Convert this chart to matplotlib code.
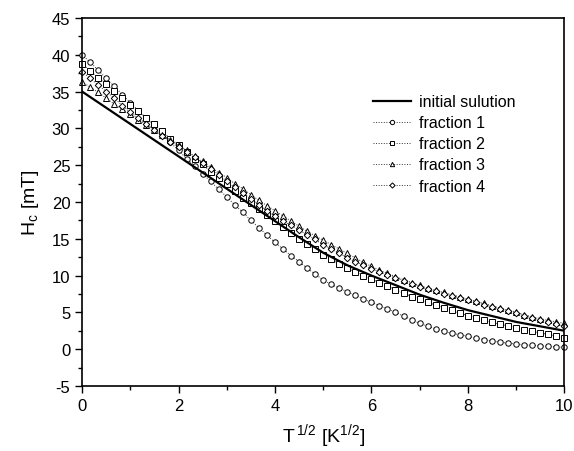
import matplotlib
matplotlib.use("Agg")
import matplotlib.pyplot as plt
import numpy as np

plt.rcParams['font.family'] = ['Liberation Sans', 'DejaVu Sans']
plt.rcParams['mathtext.default'] = 'regular'
plt.rcParams['axes.unicode_minus'] = False

# x grid of the measured fractions (61 points, 0..10) and of the initial solution
x_frac = np.linspace(0, 10, 61)
x_init = np.linspace(0, 10, 21)

initial = [35.0, 32.8, 30.6, 28.4, 26.2, 24.0, 21.8, 19.6, 17.4, 15.2, 13.1,
           11.4, 10.0, 8.7, 7.4, 6.3, 5.3, 4.5, 3.7, 3.1, 2.5]

fraction1 = [40.0, 39.0, 37.9, 36.8, 35.7, 34.6, 33.5, 32.4, 31.4, 30.3,
             29.2, 28.1, 27.0, 25.9, 24.9, 23.8, 22.8, 21.7, 20.7, 19.6,
             18.6, 17.5, 16.5, 15.5, 14.5, 13.6, 12.7, 11.9, 11.0, 10.2,
             9.4, 8.8, 8.3, 7.8, 7.3, 6.8, 6.35, 5.9, 5.45, 5.0,
             4.5, 4.0, 3.5, 3.1, 2.75, 2.45, 2.15, 1.95, 1.75, 1.5,
             1.3, 1.1, 0.95, 0.8, 0.7, 0.6, 0.5, 0.45, 0.38, 0.3, 0.25]

fraction2 = [38.8, 37.8, 36.9, 36.0, 35.1, 34.1, 33.2, 32.3, 31.4, 30.6,
             29.6, 28.6, 27.7, 26.75, 25.9, 25.1, 24.1, 23.2, 22.4, 21.5,
             20.6, 19.8, 19.0, 18.2, 17.4, 16.6, 15.8, 15.0, 14.3, 13.6,
             12.85, 12.2, 11.6, 11.0, 10.5, 10.0, 9.5, 9.05, 8.6, 8.1,
             7.6, 7.15, 6.75, 6.35, 6.0, 5.65, 5.25, 4.9, 4.55, 4.25,
             3.95, 3.65, 3.4, 3.15, 2.9, 2.65, 2.45, 2.2, 2.0, 1.75, 1.5]

fraction3 = [36.3, 35.6, 34.9, 34.1, 33.3, 32.6, 31.9, 31.2, 30.5, 29.8,
             29.1, 28.4, 27.7, 27.0, 26.2, 25.5, 24.7, 24.0, 23.3, 22.5,
             21.8, 21.0, 20.2, 19.5, 18.8, 18.1, 17.4, 16.7, 16.0, 15.4,
             14.8, 14.2, 13.6, 13.0, 12.4, 11.8, 11.25, 10.75, 10.3, 9.85,
             9.45, 9.05, 8.65, 8.3, 8.0, 7.7, 7.4, 7.1, 6.8, 6.5,
             6.2, 5.9, 5.6, 5.3, 5.0, 4.7, 4.4, 4.15, 3.9, 3.7, 3.5]

fraction4 = [37.7, 36.8, 35.9, 35.0, 34.1, 33.1, 32.2, 31.4, 30.6, 29.8,
             29.0, 28.2, 27.5, 26.8, 26.1, 25.3, 24.5, 23.7, 22.8, 22.0,
             21.2, 20.4, 19.6, 18.8, 18.1, 17.4, 16.8, 16.2, 15.5, 14.9,
             14.2, 13.6, 13.0, 12.4, 11.9, 11.4, 10.95, 10.5, 10.1, 9.7,
             9.3, 8.9, 8.5, 8.15, 7.85, 7.55, 7.25, 6.95, 6.65, 6.35,
             6.05, 5.75, 5.45, 5.15, 4.85, 4.55, 4.25, 3.95, 3.7, 3.4, 3.1]

fractions = [fraction1, fraction2, fraction3, fraction4]
labels = ["fraction 1", "fraction 2", "fraction 3", "fraction 4"]
markers = ["o", "s", "^", "D"]
msizes = [3.9, 3.7, 3.9, 3.3]

fig = plt.figure(figsize=(5.74, 4.52), dpi=100)
ax = fig.add_axes([0.143, 0.144, 0.840, 0.814])

ax.plot(x_init, initial, color="black", lw=1.6, label="initial sulution", zorder=3)
for vals, lab, mk, ms in zip(fractions, labels, markers, msizes):
    ax.plot(x_frac, vals, linestyle=":", color="#333333", lw=0.7,
            marker=mk, markersize=ms, markerfacecolor="white",
            markeredgecolor="black", markeredgewidth=0.7, label=lab, clip_on=False)

ax.set_xlim(0, 10)
ax.set_ylim(-5, 45)
ax.set_xticks(np.arange(0, 11, 2))
ax.set_xticks(np.arange(1, 10, 2), minor=True)
ax.set_yticks(np.arange(-5, 46, 5))
ax.set_yticks(np.arange(-2.5, 45, 5), minor=True)
ax.tick_params(which="both", direction="out", top=False, right=False,
               labelsize=12, width=1)
ax.tick_params(which="major", length=5)
ax.tick_params(which="minor", length=3)
for s in ax.spines.values():
    s.set_linewidth(1.2)

ax.set_xlabel(r"T$^{\,1/2}$ [K$^{1/2}$]", fontsize=14, labelpad=6)
ax.set_ylabel(r"H$_c$ [mT]", fontsize=14, labelpad=8)

ax.legend(loc="upper left", bbox_to_anchor=(0.59, 0.81), frameon=False,
          fontsize=11.5, handlelength=2.4, handletextpad=0.5,
          labelspacing=0.38, borderaxespad=0, markerscale=0.8)

fig.savefig("out.png", dpi=100)
